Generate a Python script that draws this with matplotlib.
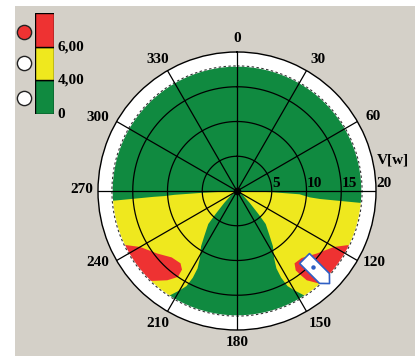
import numpy as np
import matplotlib
matplotlib.use("Agg")
import matplotlib.pyplot as plt
from matplotlib.path import Path
from matplotlib.patches import Rectangle

W, H, DPI = 416, 356, 100
PT = 72.0 / DPI  # points per pixel

plt.rcParams["font.family"] = ["Liberation Serif", "DejaVu Serif"]
plt.rcParams["font.weight"] = "bold"

# ---- chart values -------------------------------------------------------
speed_rings = [5, 10, 15, 20]
speed_max = 20
data_radius = 18
direction_labels = [0, 30, 60, 120, 150, 180, 210, 240, 270, 300, 330]
spoke_dirs = list(range(0, 360, 30))

# green / yellow boundary on each side (direction in deg vs speed)
upper_speed = [0, 5, 9, 10.5, 12, 18]
upper_dir_right = [91, 92, 93, 95, 95.5, 95.5]
upper_dir_left = [268, 267, 266.5, 266, 266, 265.5]

# half width of the green sector around 180 deg, vs speed
wedge_speed = [0, 1, 2.5, 4.5, 6.3, 8, 9.5, 11, 12.5, 14, 15.5, 16.5, 18]
wedge_half = [60, 55, 47, 43, 41, 36, 33, 29, 27, 27, 28, 30, 33]

# red zones (direction deg, speed)
red_left_dir = [244.5, 240, 232, 224.5, 218, 215, 214.5, 218, 224]
red_left_speed = [18, 16.1, 14.6, 13.4, 13.2, 13.8, 15, 16.3, 18]
red_right_dir = [115.5, 120, 128, 136, 141.5, 143.5, 143, 142, 138]
red_right_speed = [18, 16.1, 14.6, 13.4, 13.3, 14.2, 15, 16.3, 18]

# ship position / heading
ship_dir = 135
ship_speed = 15.5
ship_heading = 135

# legend
level_labels = ["0", "4,00", "6,00"]
level_colors = ["#108a40", "#efe81e", "#ee3232"]
level_active = [False, False, True]

GREEN, YELLOW, RED = level_colors
BG = "#d4d0c8"

fig = plt.figure(figsize=(W / DPI, H / DPI), dpi=DPI, facecolor="white")

# ---- background panel (pixel coordinates) --------------------------------
bg = fig.add_axes([0, 0, 1, 1])
bg.set_xlim(0, W)
bg.set_ylim(H, 0)
bg.axis("off")
bg.add_patch(Rectangle((15, 6), 400, H - 6, facecolor=BG, edgecolor="none"))

# status indicators
ind_y = [98, 63, 31.7]
for y, on in zip(ind_y, level_active):
    bg.scatter([24], [y], s=105, marker="o",
               facecolor=RED if on else "white", edgecolor="#222222",
               linewidth=1.0, zorder=3)

# ---- colour key ----------------------------------------------------------
key = fig.add_axes([35 / W, (H - 114) / H, 19.3 / W, 100.7 / H])
key.set_xlim(-0.5, 0.5)
key.set_ylim(0, len(level_colors))
key.bar([0] * len(level_colors), [1] * len(level_colors),
        bottom=range(len(level_colors)), width=1.0,
        color=level_colors, edgecolor="black", linewidth=1.0)
key.axis("off")
for i, lab in enumerate(level_labels):
    key.annotate(lab, xy=(0.5, i), xytext=(3.0 * PT, 0),
                 textcoords="offset points", ha="left", va="center",
                 fontsize=11, annotation_clip=False)

# ---- polar diagram --------------------------------------------------------
ax = fig.add_axes([98 / W, (H - 330) / H, 278 / W, 278 / H],
                  projection="polar")
ax.set_theta_zero_location("N")
ax.set_theta_direction(-1)
ax.set_ylim(0, speed_max)
ax.set_xticks([])
ax.set_yticks([])
ax.grid(False)
ax.set_facecolor("white")
ax.spines["polar"].set_color("black")
ax.spines["polar"].set_linewidth(1.0)

rad = np.deg2rad
full = np.linspace(0, 2 * np.pi, 721)


def arc(a0, a1, r, n=60):
    t = np.linspace(a0, a1, n)
    return list(t), [r] * n


# base disk
ax.fill(full, np.full_like(full, data_radius), color=GREEN, lw=0, zorder=1)

# yellow sectors
wedge_r = np.array(wedge_half)
t_r = list(upper_dir_right)
r_r = list(upper_speed)
at, ar = arc(upper_dir_right[-1], 180 - wedge_half[-1], data_radius)
t_r += at
r_r += ar
t_r += list(180 - wedge_r[::-1])
r_r += list(wedge_speed[::-1])
ax.fill(rad(np.array(t_r)), r_r, color=YELLOW, lw=0, zorder=2)

t_l = list(upper_dir_left)
r_l = list(upper_speed)
at, ar = arc(upper_dir_left[-1], 180 + wedge_half[-1], data_radius)
t_l += at
r_l += ar
t_l += list(180 + wedge_r[::-1])
r_l += list(wedge_speed[::-1])
ax.fill(rad(np.array(t_l)), r_l, color=YELLOW, lw=0, zorder=2)

# red zones
for dirs, spd in ((red_left_dir, red_left_speed),
                  (red_right_dir, red_right_speed)):
    at, ar = arc(dirs[-1], dirs[0], data_radius, 30)
    ax.fill(rad(np.array(list(dirs) + at)), list(spd) + ar,
            color=RED, lw=0, zorder=3)

# dashed limit circle
ax.plot(full, np.full_like(full, data_radius), color="white", lw=1.1, zorder=4)
ax.plot(full, np.full_like(full, data_radius), color="#333333", lw=0.8,
        ls=(0, (2.2, 2.2)), zorder=4)

# rings and spokes
for r in speed_rings[:-1]:
    ax.plot(full, np.full_like(full, r), color="black", lw=0.9, zorder=5)
for d in spoke_dirs:
    ax.plot([rad(d), rad(d)], [0, speed_max], color="black", lw=0.9, zorder=5)
ax.plot([0], [0], "o", color="black", ms=4.5, zorder=6)

# ship symbol
hull = np.array([(-12.7, -7), (-12.7, 7), (15.5, 7), (22.7, 0),
                 (15.5, -7), (-12.7, -7)])
a = np.deg2rad(90 - ship_heading)
rot = np.array([[np.cos(a), -np.sin(a)], [np.sin(a), np.cos(a)]])
verts = hull @ rot.T
ms = 2 * np.abs(verts).max() * PT
ax.plot([rad(ship_dir)], [ship_speed], ls="none",
        marker=Path(verts, closed=True), ms=ms, mfc="white",
        mec="#2f5fc4", mew=1.2, zorder=7)
ax.plot([rad(ship_dir)], [ship_speed], ls="none", marker="o", ms=2.2,
        color="#2f5fc4", zorder=8)

# direction labels
label_offsets = {0: (0, 13), 30: (12, 11), 60: (16, 4.5), 120: (17, -1.5),
                 150: (13.5, -12.5), 180: (0, -12), 210: (-10, -12.5),
                 240: (-18.6, -1.5), 270: (-16.5, 2), 300: (-18.6, 4.2),
                 330: (-10, 11)}
for d in direction_labels:
    dx, dy = label_offsets[d]
    ax.annotate(str(d), xy=(rad(d), speed_max), xytext=(dx * PT, dy * PT),
                textcoords="offset points", ha="center", va="center",
                fontsize=11, annotation_clip=False, zorder=9)

# speed labels along 90 deg
for r in speed_rings:
    ax.annotate(str(r), xy=(rad(90), r), xytext=(0.5 * PT, 4 * PT),
                textcoords="offset points", ha="left", va="baseline",
                fontsize=11, annotation_clip=False, zorder=9)
ax.annotate("V[w]", xy=(rad(90), speed_max), xytext=(1 * PT, 31 * PT),
            textcoords="offset points", ha="left", va="center",
            fontsize=11, annotation_clip=False, zorder=9)

fig.savefig("out.png", dpi=DPI, facecolor=fig.get_facecolor())
